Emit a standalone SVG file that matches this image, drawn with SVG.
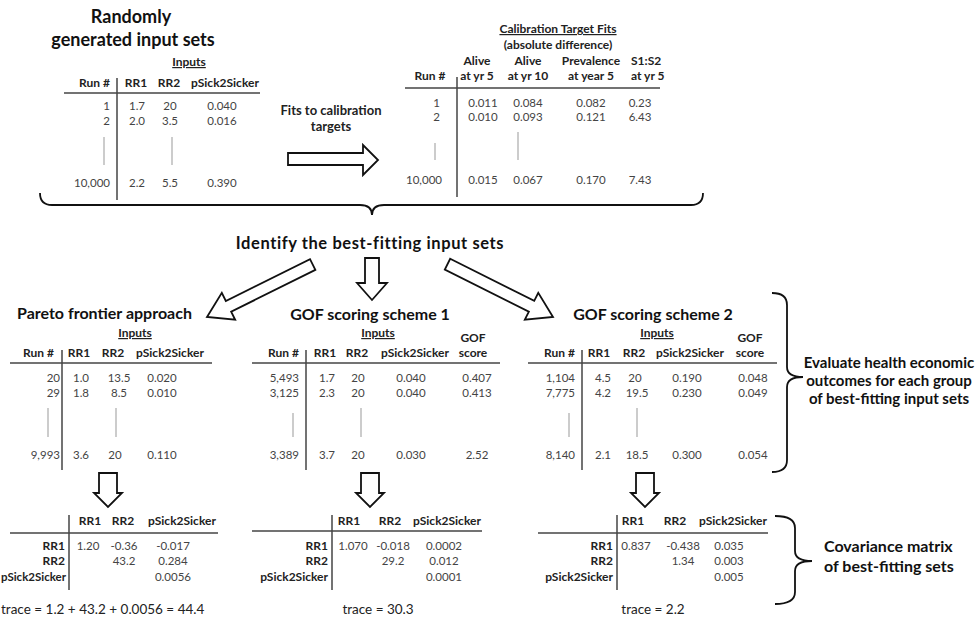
<svg xmlns="http://www.w3.org/2000/svg" width="979" height="627" viewBox="0 0 979 627">
<style>
text{font-family:Lato,"Open Sans","Liberation Sans",sans-serif}
.big{font-size:18px;font-weight:bold;fill:#111;text-anchor:middle}
.ttl{font-size:16px;font-weight:bold;fill:#111}
.lbl{font-size:16px;font-weight:bold;fill:#111}
.h{font-size:12px;font-weight:bold;fill:#222}
.n{font-size:11.5px;fill:#444}
.m{text-anchor:middle}
.e{text-anchor:end}
.u{text-decoration:underline}
.rule{stroke:#444;stroke-width:1.5;fill:none}
.dot{stroke:#aaa;stroke-width:1.2}
.ba{fill:#fff;stroke:#111;stroke-width:1.8;stroke-linejoin:miter}
.br{fill:none;stroke:#111;stroke-width:1.8}
.tr{font-size:13.5px;fill:#222}
</style>
<defs>
<polygon id="diag" points="-118,-6 -24,-6 -24,-15 0,0 -24,15 -24,6 -118,6"/>
<polygon id="dn" points="-9,-34 9,-34 9,-14 14,-14 0,0 -14,-14 -9,-14"/>
</defs>
<rect width="979" height="627" fill="#fff"/>

<g id="random-inputs">
<text class="big" x="131" y="23">Randomly</text>
<text class="big" x="133" y="46">generated input sets</text>
<text class="h m u" x="189" y="66">Inputs</text>
<text class="h e" x="110" y="87">Run #</text>
<text class="h m" x="136" y="87">RR1</text>
<text class="h m" x="169" y="87">RR2</text>
<text class="h m" x="225" y="87">pSick2Sicker</text>
<line class="rule" x1="64" y1="93" x2="260" y2="93"/>
<line class="rule" x1="117" y1="78" x2="117" y2="200"/>
<text class="n e" x="110" y="110">1</text><text class="n m" x="137" y="110">1.7</text><text class="n m" x="170" y="110">20</text><text class="n m" x="222" y="110">0.040</text>
<text class="n e" x="110" y="125">2</text><text class="n m" x="137" y="125">2.0</text><text class="n m" x="170" y="125">3.5</text><text class="n m" x="222" y="125">0.016</text>
<line class="dot" x1="104" y1="137" x2="104" y2="165"/><line class="dot" x1="172" y1="137" x2="172" y2="165"/>
<text class="n e" x="110" y="187">10,000</text><text class="n m" x="137" y="187">2.2</text><text class="n m" x="170" y="187">5.5</text><text class="n m" x="222" y="187">0.390</text>
</g>

<g id="fits-label">
<text class="h m" style="font-size:13px" x="331" y="115">Fits to calibration</text>
<text class="h m" style="font-size:13px" x="331" y="131">targets</text>
</g>

<g id="calibration-fits">
<text class="h m u" x="558" y="33">Calibration Target Fits</text>
<text class="h m" x="558" y="49">(absolute difference)</text>
<text class="h m" x="477" y="65">Alive</text><text class="h m" x="477" y="80">at yr 5</text>
<text class="h m" x="528" y="65">Alive</text><text class="h m" x="528" y="80">at yr 10</text>
<text class="h m" x="591" y="65">Prevalence</text><text class="h m" x="591" y="80">at year 5</text>
<text class="h" x="631" y="65">S1:S2</text><text class="h" x="631" y="80">at yr 5</text>
<text class="h m" x="430" y="80">Run #</text>
<line class="rule" x1="405" y1="88" x2="660" y2="88"/>
<line class="rule" x1="457" y1="77" x2="457" y2="197"/>
<text class="n e" x="440" y="107">1</text><text class="n m" x="483" y="107">0.011</text><text class="n m" x="528" y="107">0.084</text><text class="n m" x="591" y="107">0.082</text><text class="n m" x="640" y="107">0.23</text>
<text class="n e" x="440" y="121">2</text><text class="n m" x="483" y="121">0.010</text><text class="n m" x="528" y="121">0.093</text><text class="n m" x="591" y="121">0.121</text><text class="n m" x="640" y="121">6.43</text>
<line class="dot" x1="435" y1="143" x2="435" y2="160"/><line class="dot" x1="518" y1="132" x2="518" y2="160"/>
<text class="n e" x="442" y="184">10,000</text><text class="n m" x="483" y="184">0.015</text><text class="n m" x="528" y="184">0.067</text><text class="n m" x="591" y="184">0.170</text><text class="n m" x="640" y="184">7.43</text>
</g>

<g id="identify">
<text class="lbl m" style="font-size:16.5px;letter-spacing:0.6px" x="370" y="249">Identify the best-fitting input sets</text>
</g>

<g id="pareto">
<text class="ttl" x="17" y="319">Pareto frontier approach</text>
<text class="h m u" x="135" y="337">Inputs</text>
<text class="h e" x="54" y="357">Run #</text><text class="h m" x="79" y="357">RR1</text><text class="h m" x="113" y="357">RR2</text><text class="h m" x="170" y="357">pSick2Sicker</text>
<line class="rule" x1="10" y1="363" x2="212" y2="363"/>
<line class="rule" x1="62" y1="350" x2="62" y2="470"/>
<text class="n e" x="60" y="382">20</text><text class="n m" x="81" y="382">1.0</text><text class="n m" x="119" y="382">13.5</text><text class="n m" x="162" y="382">0.020</text>
<text class="n e" x="60" y="397">29</text><text class="n m" x="81" y="397">1.8</text><text class="n m" x="119" y="397">8.5</text><text class="n m" x="162" y="397">0.010</text>
<line class="dot" x1="48" y1="408" x2="48" y2="437"/><line class="dot" x1="116" y1="408" x2="116" y2="437"/>
<text class="n e" x="60" y="459">9,993</text><text class="n m" x="81" y="459">3.6</text><text class="n m" x="115" y="459">20</text><text class="n m" x="162" y="459">0.110</text>
</g>

<g id="gof1">
<text class="ttl m" x="370" y="320">GOF scoring scheme 1</text>
<text class="h m u" x="378" y="337">Inputs</text>
<text class="h m" x="473" y="342">GOF</text>
<text class="h e" x="299" y="357">Run #</text><text class="h m" x="325" y="357">RR1</text><text class="h m" x="357" y="357">RR2</text><text class="h m" x="415" y="357">pSick2Sicker</text><text class="h m" x="473" y="357">score</text>
<line class="rule" x1="252" y1="363" x2="500" y2="363"/>
<line class="rule" x1="306" y1="350" x2="306" y2="470"/>
<text class="n e" x="299" y="382">5,493</text><text class="n m" x="327" y="382">1.7</text><text class="n m" x="358" y="382">20</text><text class="n m" x="411" y="382">0.040</text><text class="n m" x="477" y="382">0.407</text>
<text class="n e" x="299" y="397">3,125</text><text class="n m" x="327" y="397">2.3</text><text class="n m" x="358" y="397">20</text><text class="n m" x="411" y="397">0.040</text><text class="n m" x="477" y="397">0.413</text>
<line class="dot" x1="293" y1="413" x2="293" y2="437"/><line class="dot" x1="361" y1="408" x2="361" y2="437"/>
<text class="n e" x="299" y="459">3,389</text><text class="n m" x="327" y="459">3.7</text><text class="n m" x="358" y="459">20</text><text class="n m" x="411" y="459">0.030</text><text class="n m" x="477" y="459">2.52</text>
</g>

<g id="gof2">
<text class="ttl m" x="653" y="320">GOF scoring scheme 2</text>
<text class="h m u" x="657" y="337">Inputs</text>
<text class="h m" x="750" y="342">GOF</text>
<text class="h e" x="575" y="357">Run #</text><text class="h m" x="599" y="357">RR1</text><text class="h m" x="634" y="357">RR2</text><text class="h m" x="690" y="357">pSick2Sicker</text><text class="h m" x="750" y="357">score</text>
<line class="rule" x1="528" y1="363" x2="777" y2="363"/>
<line class="rule" x1="582" y1="350" x2="582" y2="470"/>
<text class="n e" x="575" y="382">1,104</text><text class="n m" x="603" y="382">4.5</text><text class="n m" x="635" y="382">20</text><text class="n m" x="687" y="382">0.190</text><text class="n m" x="753" y="382">0.048</text>
<text class="n e" x="575" y="397">7,775</text><text class="n m" x="603" y="397">4.2</text><text class="n m" x="637" y="397">19.5</text><text class="n m" x="687" y="397">0.230</text><text class="n m" x="753" y="397">0.049</text>
<line class="dot" x1="569" y1="413" x2="569" y2="437"/><line class="dot" x1="637" y1="408" x2="637" y2="437"/>
<text class="n e" x="575" y="459">8,140</text><text class="n m" x="603" y="459">2.1</text><text class="n m" x="637" y="459">18.5</text><text class="n m" x="687" y="459">0.300</text><text class="n m" x="753" y="459">0.054</text>
</g>

<g id="evaluate-label">
<text class="lbl m" style="font-size:15px" x="889" y="368">Evaluate health economic</text>
<text class="lbl m" style="font-size:15px" x="889" y="386">outcomes for each group</text>
<text class="lbl m" style="font-size:15px" x="889" y="404">of best-fitting input sets</text>
</g>

<g id="cov-pareto">
<text class="h m" x="90" y="525">RR1</text><text class="h m" x="123" y="525">RR2</text><text class="h m" x="182" y="525">pSick2Sicker</text>
<line class="rule" x1="10" y1="533" x2="218" y2="533"/>
<line class="rule" x1="69" y1="515" x2="69" y2="590"/>
<text class="h e" x="65" y="550">RR1</text><text class="n m" x="88" y="550">1.20</text><text class="n m" x="124" y="550">-0.36</text><text class="n m" x="173" y="550">-0.017</text>
<text class="h e" x="65" y="565">RR2</text><text class="n m" x="124" y="565">43.2</text><text class="n m" x="173" y="565">0.284</text>
<text class="h e" style="font-size:11.5px" x="66" y="581">pSick2Sicker</text><text class="n m" x="173" y="581">0.0056</text>
<text class="tr" x="1" y="614">trace = 1.2 + 43.2 + 0.0056 = 44.4</text>
</g>

<g id="cov-gof1">
<text class="h m" x="349" y="525">RR1</text><text class="h m" x="390" y="525">RR2</text><text class="h m" x="447" y="525">pSick2Sicker</text>
<line class="rule" x1="252" y1="531" x2="482" y2="531"/>
<line class="rule" x1="332" y1="515" x2="332" y2="590"/>
<text class="h e" x="328" y="550">RR1</text><text class="n m" x="353" y="550">1.070</text><text class="n m" x="393" y="550">-0.018</text><text class="n m" x="444" y="550">0.0002</text>
<text class="h e" x="328" y="565">RR2</text><text class="n m" x="393" y="565">29.2</text><text class="n m" x="444" y="565">0.012</text>
<text class="h e" x="328" y="581">pSick2Sicker</text><text class="n m" x="444" y="581">0.0001</text>
<text class="tr m" x="378" y="614">trace = 30.3</text>
</g>

<g id="cov-gof2">
<text class="h m" x="633" y="525">RR1</text><text class="h m" x="675" y="525">RR2</text><text class="h m" x="733" y="525">pSick2Sicker</text>
<line class="rule" x1="538" y1="533" x2="768" y2="533"/>
<line class="rule" x1="617" y1="515" x2="617" y2="590"/>
<text class="h e" x="613" y="550">RR1</text><text class="n m" x="636" y="550">0.837</text><text class="n m" x="683" y="550">-0.438</text><text class="n m" x="729" y="550">0.035</text>
<text class="h e" x="613" y="565">RR2</text><text class="n m" x="683" y="565">1.34</text><text class="n m" x="729" y="565">0.003</text>
<text class="h e" x="613" y="581">pSick2Sicker</text><text class="n m" x="729" y="581">0.005</text>
<text class="tr m" x="653" y="614">trace = 2.2</text>
</g>

<g id="covariance-label">
<text class="lbl" x="824" y="552">Covariance matrix</text>
<text class="lbl" x="824" y="572">of best-fitting sets</text>
</g>

<g id="connectors">
<polygon class="ba" points="288,153 363,153 363,145 378,160 363,175 363,165 288,165"/>
<path class="br" d="M40,193 Q40,205 52,205 L360,205 Q372,205 372,215 Q372,205 384,205 L691,205 Q703,205 703,193"/>
<polygon class="ba" points="365,258 379,258 379,283 387,283 372,300 357,283 365,283"/>
<use href="#diag" class="ba" transform="translate(207,317) rotate(153.6)"/>
<use href="#diag" class="ba" transform="translate(553,317) rotate(26.6)"/>
<use href="#dn" class="ba" transform="translate(108,507)"/>
<use href="#dn" class="ba" transform="translate(370,507)"/>
<use href="#dn" class="ba" transform="translate(645,507)"/>
<path class="br" d="M772,293 Q787,293 787,305 L787,367 Q787,377 803,377 Q787,377 787,387 L787,460 Q787,472 772,472"/>
<path class="br" d="M775,516 Q795,516 795,528 L795,551 Q795,561 812,561 Q795,561 795,571 L795,592 Q795,604 775,604"/>
</g>
</svg>
